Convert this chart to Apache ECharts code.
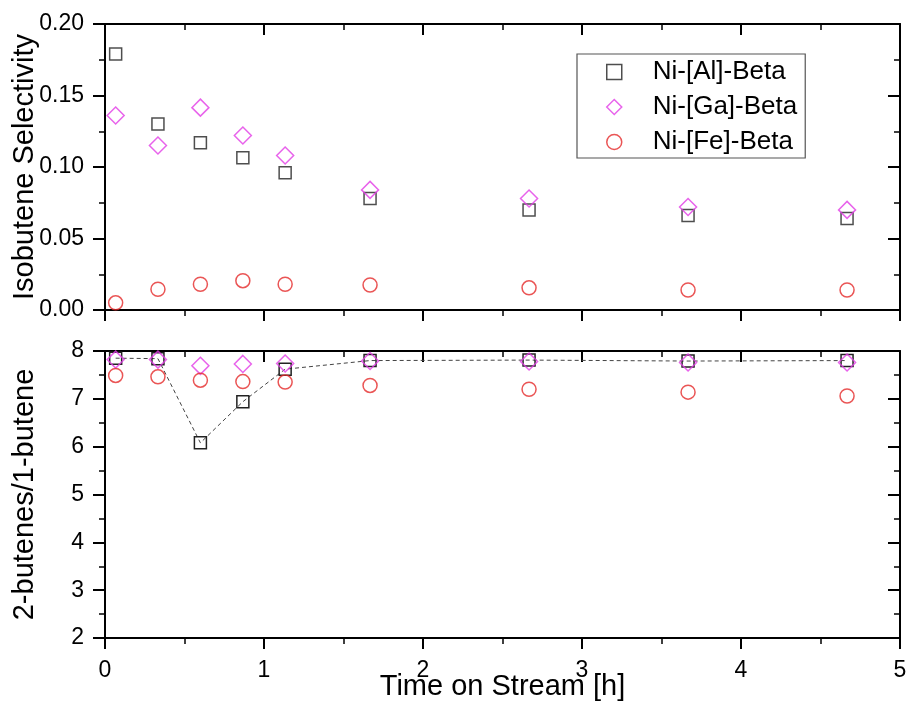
<!DOCTYPE html>
<html>
<head>
<meta charset="utf-8">
<script src="https://cdn.jsdelivr.net/npm/echarts@6/dist/echarts.min.js"></script>
<style>
  html, body { margin: 0; padding: 0; background: #fff; }
  #chart { width: 910px; height: 702px; }
</style>
</head>
<body>
<div id="chart"></div>
<script>
// Time on stream [h]
const timeOnStream = [0.067, 0.333, 0.6, 0.867, 1.133, 1.667, 2.667, 3.667, 4.667];

// Isobutene selectivity
const isoAl = [0.179, 0.130, 0.117, 0.1065, 0.096, 0.078, 0.070, 0.066, 0.064];
const isoGa = [0.136, 0.115, 0.1415, 0.122, 0.108, 0.084, 0.078, 0.072, 0.070];
const isoFe = [0.005, 0.0145, 0.018, 0.0205, 0.018, 0.0175, 0.0155, 0.014, 0.014];

// 2-butenes / 1-butene ratio
const ratioAl = [7.85, 7.84, 6.08, 6.94, 7.62, 7.80, 7.81, 7.79, 7.80];
const ratioGa = [7.82, 7.82, 7.69, 7.73, 7.74, 7.79, 7.78, 7.76, 7.76];
const ratioFe = [7.49, 7.46, 7.39, 7.36, 7.35, 7.28, 7.20, 7.14, 7.06];

const seriesNames = ['Ni-[Al]-Beta', 'Ni-[Ga]-Beta', 'Ni-[Fe]-Beta'];

const FONT = '"Liberation Sans", Arial, Helvetica, sans-serif';
const AXIS_W = 2;

const pairs = ys => timeOnStream.map((x, i) => [x, ys[i]]);

const styleAl = { color: 'rgba(0,0,0,0)', borderColor: '#222', borderWidth: 1.5 };
const styleGa = { color: 'rgba(0,0,0,0)', borderColor: '#e23ce6', borderWidth: 1.5 };
const styleFe = { color: 'rgba(0,0,0,0)', borderColor: '#e52a2a', borderWidth: 1.5 };

function xAxisPair(gridIndex, showLabels) {
  const common = {
    type: 'value', gridIndex, min: 0, max: 5, interval: 1,
    splitLine: { show: false },
    axisLine: { show: true, onZero: false, lineStyle: { color: '#000', width: AXIS_W } },
    minorTick: { show: true, splitNumber: 2, length: 6, lineStyle: { color: '#000', width: 1.5 } },
    axisTick: { show: true, length: 11, lineStyle: { color: '#000', width: 2 } }
  };
  return [
    Object.assign({}, common, {
      position: 'bottom',
      axisTick: Object.assign({}, common.axisTick, { inside: false }),
      axisLabel: { show: showLabels, color: '#000', fontSize: 23, fontFamily: FONT, margin: 21 },
      name: showLabels ? 'Time on Stream [h]' : '',
      nameLocation: 'middle', nameGap: 34, nameMoveOverlap: false,
      nameTextStyle: { color: '#000', fontSize: 29, fontFamily: FONT }
    }),
    Object.assign({}, common, {
      position: 'top',
      axisTick: Object.assign({}, common.axisTick, { inside: true }),
      axisLabel: { show: false }
    })
  ];
}

function yAxisPair(gridIndex, min, max, interval, name, fmt) {
  const common = {
    type: 'value', gridIndex, min, max, interval,
    splitLine: { show: false },
    axisLine: { show: true, onZero: false, lineStyle: { color: '#000', width: AXIS_W } },
    minorTick: { show: true, splitNumber: 2, length: 6, lineStyle: { color: '#000', width: 1.5 } },
    axisTick: { show: true, length: 12, lineStyle: { color: '#000', width: 2 } }
  };
  return [
    Object.assign({}, common, {
      position: 'left',
      axisTick: Object.assign({}, common.axisTick, { inside: false }),
      axisLabel: { show: true, color: '#000', fontSize: 23, fontFamily: FONT, margin: 21, formatter: fmt },
      name, nameLocation: 'middle', nameGap: 66, nameMoveOverlap: false,
      nameTextStyle: { color: '#000', fontSize: 29, fontFamily: FONT }
    }),
    Object.assign({}, common, {
      position: 'right',
      axisTick: Object.assign({}, common.axisTick, { inside: true }),
      axisLabel: { show: false }
    })
  ];
}

const chart = echarts.init(document.getElementById('chart'), null, { renderer: 'canvas' });

chart.setOption({
  backgroundColor: '#fff',
  animation: false,
  grid: [
    { left: 105, right: 10, top: 24, height: 286, containLabel: false, outerBoundsMode: 'none' },
    { left: 105, right: 10, top: 351, height: 287, containLabel: false, outerBoundsMode: 'none' }
  ],
  xAxis: [].concat(xAxisPair(0, false), xAxisPair(1, true)),
  yAxis: [].concat(
    yAxisPair(0, 0, 0.2, 0.05, 'Isobutene Selectivity', v => v.toFixed(2)),
    yAxisPair(1, 2, 8, 1, '2-butenes/1-butene', v => String(v))
  ),
  legend: {
    left: 577, top: 54,
    orient: 'vertical',
    backgroundColor: '#fff',
    borderColor: '#555', borderWidth: 1.2,
    padding: [5, 8, 3, 29],
    itemWidth: 15, itemHeight: 15, itemGap: 9,
    textStyle: { color: '#000', fontSize: 26, fontFamily: FONT, lineHeight: 25, padding: [0, 0, 0, 26] },
    data: [
      { name: seriesNames[0], icon: 'rect', itemStyle: styleAl },
      { name: seriesNames[1], icon: 'diamond', itemStyle: styleGa },
      { name: seriesNames[2], icon: 'circle', itemStyle: styleFe }
    ]
  },
  series: [
    // upper panel: isobutene selectivity
    { name: seriesNames[0], type: 'scatter', xAxisIndex: 0, yAxisIndex: 0, z: 2,
      symbol: 'rect', symbolSize: 12, itemStyle: styleAl, data: pairs(isoAl) },
    { name: seriesNames[1], type: 'scatter', xAxisIndex: 0, yAxisIndex: 0, z: 3,
      symbol: 'diamond', symbolSize: 17, itemStyle: styleGa, data: pairs(isoGa) },
    { name: seriesNames[2], type: 'scatter', xAxisIndex: 0, yAxisIndex: 0, z: 3,
      symbol: 'circle', symbolSize: 14, itemStyle: styleFe, data: pairs(isoFe) },
    // lower panel: 2-butenes / 1-butene ratio
    { name: seriesNames[0], type: 'line', xAxisIndex: 2, yAxisIndex: 2, z: 2,
      symbol: 'rect', symbolSize: 12, showSymbol: true, itemStyle: styleAl,
      lineStyle: { color: '#444', width: 1, type: [4, 3] }, data: pairs(ratioAl) },
    { name: seriesNames[1], type: 'scatter', xAxisIndex: 2, yAxisIndex: 2, z: 4,
      symbol: 'diamond', symbolSize: 17, itemStyle: styleGa, data: pairs(ratioGa) },
    { name: seriesNames[2], type: 'scatter', xAxisIndex: 2, yAxisIndex: 2, z: 4,
      symbol: 'circle', symbolSize: 14, itemStyle: styleFe, data: pairs(ratioFe) }
  ]
});
</script>
</body>
</html>
